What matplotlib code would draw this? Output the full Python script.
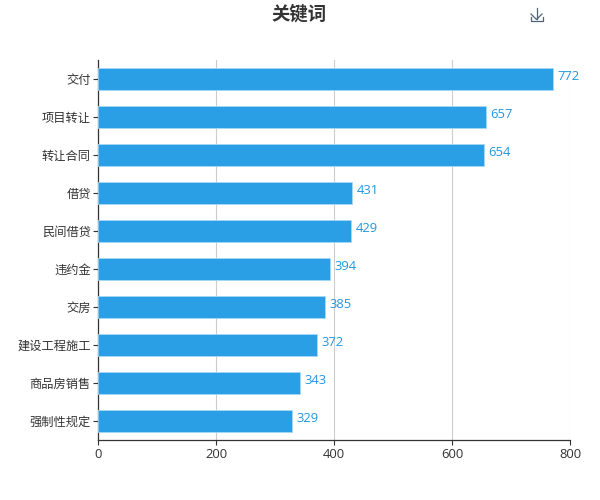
import matplotlib
matplotlib.use('Agg')
import matplotlib.pyplot as plt
from matplotlib.lines import Line2D

plt.rcParams['font.family'] = ['Open Sans', 'Noto Sans CJK SC', 'DejaVu Sans']

keywords = ['交付', '项目转让', '转让合同', '借贷', '民间借贷',
            '违约金', '交房', '建设工程施工', '商品房销售', '强制性规定']
counts = [772, 657, 654, 431, 429, 394, 385, 372, 343, 329]
x_ticks = [0, 200, 400, 600, 800]

W, H = 600, 500

fig = plt.figure(figsize=(6, 5), dpi=100)
ax = fig.add_axes([98 / W, 1 - 440 / H, (570 - 98) / W, (440 - 60) / H])

positions = list(range(len(keywords)))
ax.barh(positions, counts, height=0.6, color='#2b9fe6', edgecolor='#a5d8f5',
        linewidth=0.6, zorder=3)

# подписи значений чуть выше центра столбика
for pos, val in zip(positions, counts):
    ax.annotate(str(val), (val, pos), xytext=(3.2, 2.0), textcoords='offset points',
                ha='left', va='center', color='#2196e0', fontsize=9.4, zorder=4)

ax.set_xlim(0, 800)
ax.set_ylim(len(keywords) - 0.5, -0.5)
ax.set_xticks(x_ticks)
ax.set_yticks(positions)
ax.set_yticklabels(keywords)
ax.tick_params(axis='both', length=3.6, width=0.8, color='#333333',
               labelcolor='#333333')
ax.tick_params(axis='y', pad=1.5, labelsize=8.8)
ax.tick_params(axis='x', pad=2.5, labelsize=9.4)
ax.grid(True, axis='x', color='#cccccc', linewidth=0.8, zorder=0)
ax.set_axisbelow(True)

for side in ['top', 'right']:
    ax.spines[side].set_visible(False)
for side in ['left', 'bottom']:
    ax.spines[side].set_color('#333333')
    ax.spines[side].set_linewidth(0.9)

fig.text(299.5 / W, 1 - 14 / H, '关键词', ha='center', va='center',
         fontsize=13.2, fontweight='bold', color='#333333')

# значок завантаження вгорі праворуч
icon = [
    ([536.5, 536.5], [8, 19]),
    ([531, 536.5, 542], [14, 19.5, 14]),
    ([530.5, 530.5, 542.5, 542.5], [17, 21, 21, 17]),
]
for xs, ys in icon:
    fig.add_artist(Line2D([x / W for x in xs], [1 - y / H for y in ys],
                          color='#4f6478', linewidth=0.9))

fig.savefig('out.png', dpi=100)
